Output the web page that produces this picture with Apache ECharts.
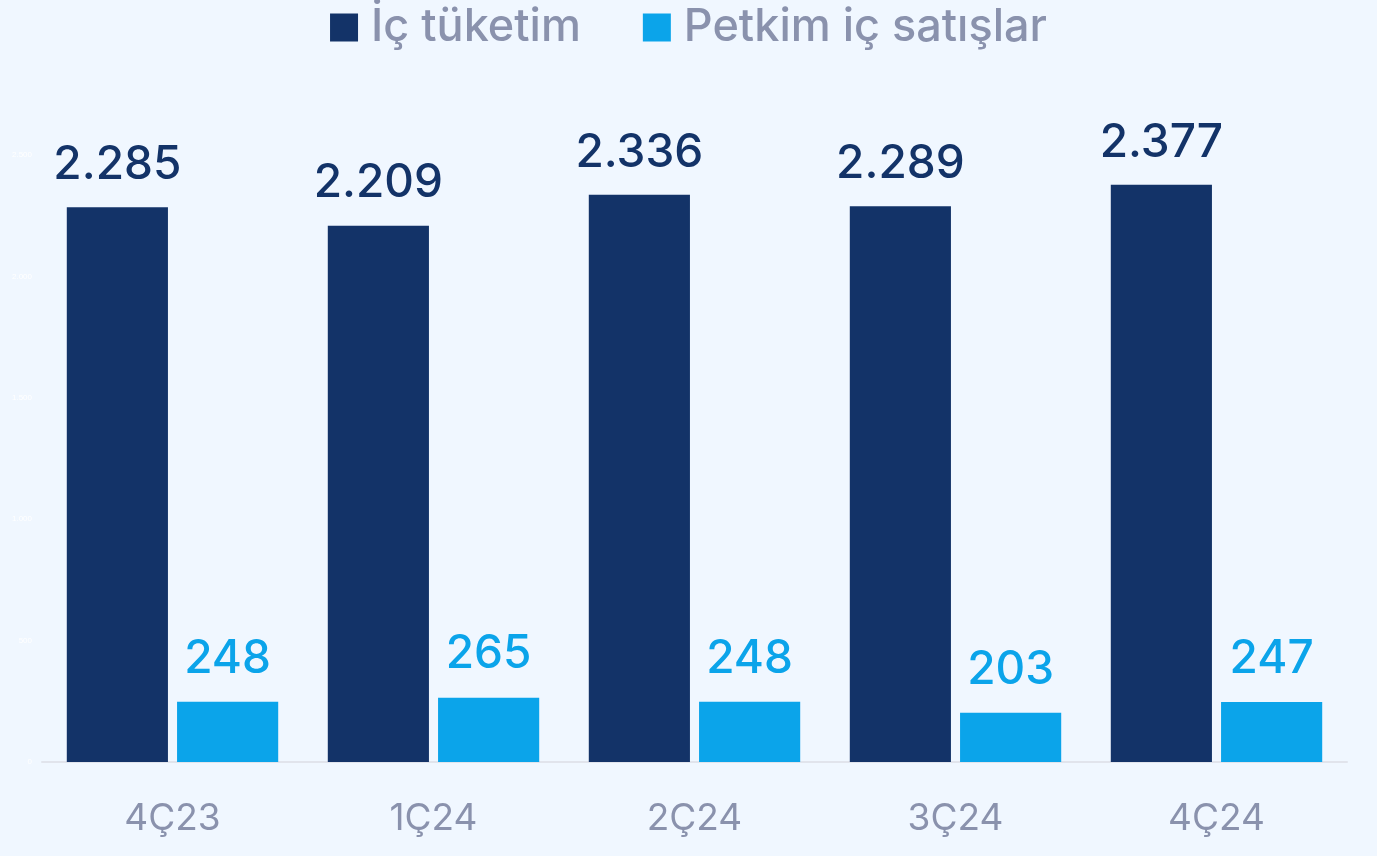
<!DOCTYPE html>
<html>
<head>
<meta charset="utf-8">
<script src="https://cdn.jsdelivr.net/npm/echarts@6/dist/echarts.min.js"></script>
<style>
  html, body { margin: 0; padding: 0; background: #f0f7ff; }
  #chart { width: 1377px; height: 856px; }
</style>
</head>
<body>
<div id="chart"></div>
<script>
  const quarters = ["4Ç23", "1Ç24", "2Ç24", "3Ç24", "4Ç24"];
  const icTuketim = [2285, 2209, 2336, 2289, 2377];
  const petkimSatis = [248, 265, 248, 203, 247];

  const font = "Inter, 'Noto Sans', sans-serif";

  // sayıları 2.285 şeklinde yaz
  function fmt(v) {
    return String(v).replace(/\B(?=(\d{3})+(?!\d))/g, ".");
  }

  const chart = echarts.init(document.getElementById("chart"));
  const option = {
    backgroundColor: "#f0f7ff",
    legend: {
      top: 0,
      left: "center",
      itemWidth: 28,
      itemHeight: 28,
      itemGap: 62,
      icon: "rect",
      textStyle: {
        color: "#8a92ad",
        fontSize: 45,
        fontFamily: font,
        fontWeight: 500,
        padding: [0, 0, 0, 8]
      },
      data: ["İç tüketim", "Petkim iç satışlar"]
    },
    grid: { left: 42, right: 30, top: 155, bottom: 94 },
    xAxis: {
      type: "category",
      data: quarters,
      axisTick: { show: false },
      axisLine: { lineStyle: { color: "#e1e4ec", width: 2 } },
      axisLabel: { color: "#8a92ad", fontSize: 37, fontFamily: font, margin: 38 }
    },
    yAxis: {
      type: "value",
      min: 0,
      max: 2500,
      interval: 500,
      splitLine: { show: false },
      axisLabel: {
        color: "#ffffff",
        fontSize: 8,
        margin: 10,
        formatter: function (v) { return fmt(v); }
      }
    },
    series: [
      {
        name: "İç tüketim",
        type: "bar",
        data: icTuketim,
        barGap: "9%",
        barCategoryGap: "19%",
        itemStyle: { color: "#133368" },
        label: {
          show: true,
          position: "top",
          distance: 19,
          color: "#133368",
          fontSize: 46,
          fontFamily: font,
          fontWeight: 500,
          formatter: function (p) { return fmt(p.value); }
        }
      },
      {
        name: "Petkim iç satışlar",
        type: "bar",
        data: petkimSatis,
        itemStyle: { color: "#0ba4ea" },
        label: {
          show: true,
          position: "top",
          distance: 20,
          color: "#0ba4ea",
          fontSize: 46,
          fontFamily: font,
          fontWeight: 500,
          formatter: function (p) { return fmt(p.value); }
        }
      }
    ]
  };
  chart.setOption(option);
</script>
</body>
</html>
